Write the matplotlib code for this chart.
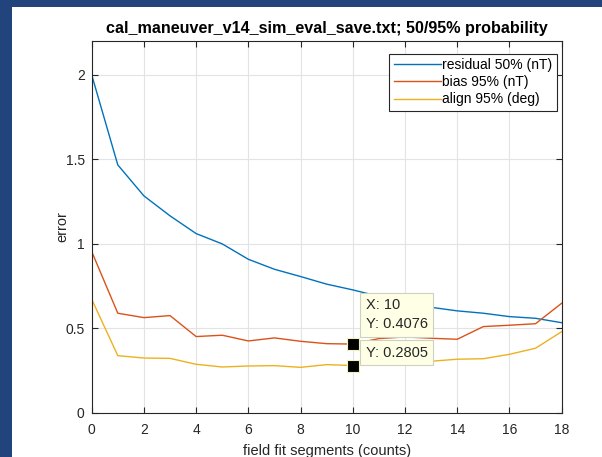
import numpy as np
import matplotlib.pyplot as plt
from matplotlib.patches import Rectangle

plt.rcParams['font.family'] = ['Liberation Sans', 'DejaVu Sans']

# field fit segments
segments = list(range(19))
# residual 50% (nT)
residual = [2.00, 1.467, 1.284, 1.166, 1.061, 1.000, 0.909, 0.850, 0.807, 0.762,
            0.728, 0.690, 0.655, 0.625, 0.604, 0.590, 0.570, 0.560, 0.534]
# bias 95% (nT)
bias = [0.955, 0.590, 0.564, 0.576, 0.452, 0.460, 0.426, 0.444, 0.424, 0.410,
        0.4076, 0.440, 0.450, 0.442, 0.436, 0.511, 0.519, 0.528, 0.649]
# align 95% (deg)
align = [0.673, 0.339, 0.325, 0.323, 0.288, 0.272, 0.278, 0.280, 0.270, 0.286,
         0.2805, 0.302, 0.298, 0.306, 0.318, 0.321, 0.347, 0.383, 0.481]

labels = ['residual 50% (nT)', 'bias 95% (nT)', 'align 95% (deg)']
colors = ['#0072BD', '#D95319', '#EDB120']
tip_idx = 10

fig = plt.figure(figsize=(6.02, 4.57), dpi=100, facecolor='#22447c')
# white figure window area on top of the dark desktop background
fig.patches.append(Rectangle((12 / 602, 0), 1, 1 - 7 / 457, transform=fig.transFigure,
                             facecolor='white', edgecolor='none', zorder=-10))

ax = fig.add_axes([0.1523, 0.0963, 0.7807, 0.814])
for ys, lab, c in zip([residual, bias, align], labels, colors):
    ax.plot(segments, ys, color=c, lw=1.0, label=lab)

ax.set_xlim(0, 18)
ax.set_ylim(0, 2.2)
ax.set_xticks(np.arange(0, 19, 2))
ax.set_yticks([0, 0.5, 1, 1.5, 2])
ax.set_yticklabels(['0', '0.5', '1', '1.5', '2'])
ax.grid(True, color='#e3e3e3', lw=0.8)
ax.set_axisbelow(True)
ax.tick_params(direction='in', top=True, right=True, length=4, width=0.8,
               colors='#262626', labelsize=10)
ax.tick_params(axis='x', pad=7)
ax.tick_params(axis='y', pad=5)
for s in ax.spines.values():
    s.set_color('#262626')
    s.set_linewidth(0.8)

ax.set_title('cal_maneuver_v14_sim_eval_save.txt; 50/95% probability',
             fontsize=11.6, fontweight='bold', color='black', pad=6)
ax.set_xlabel('field fit segments (counts)', fontsize=10.5, color='#262626', labelpad=5)
ax.set_ylabel('error', fontsize=10.5, color='#262626')
ax.yaxis.set_label_coords(-0.047, 0.5)

leg = ax.legend(loc='upper right', fontsize=10, handlelength=3.4, handletextpad=0.1,
                borderpad=0.3, labelspacing=0.22, fancybox=False, framealpha=1,
                edgecolor='#262626', borderaxespad=0.3, bbox_to_anchor=(0.998, 0.976))
leg.get_frame().set_linewidth(0.8)

# data tips
ax.plot([segments[tip_idx]] * 2, [bias[tip_idx], align[tip_idx]], 's', color='black',
        ms=8, mec='#f5f0c0', mew=0.8, zorder=5)
tip_box = dict(boxstyle='square,pad=0.38', facecolor='#ffffe6', edgecolor='#d0d0c0', lw=0.8)
ax.annotate(f'Y: {align[tip_idx]:.4f}', xy=(segments[tip_idx], align[tip_idx]),
            xytext=(13, 6), textcoords='offset pixels', fontsize=10.5, color='#262626',
            va='bottom', ha='left', bbox=tip_box, zorder=6)
ax.annotate(f'X: {segments[tip_idx]}\nY: {bias[tip_idx]:.4f}',
            xy=(segments[tip_idx], bias[tip_idx]),
            xytext=(13, 13), textcoords='offset pixels', fontsize=10.5, color='#262626',
            va='bottom', ha='left', linespacing=1.45, bbox=tip_box, zorder=7)

fig.savefig('out.png', dpi=100, facecolor=fig.get_facecolor())
